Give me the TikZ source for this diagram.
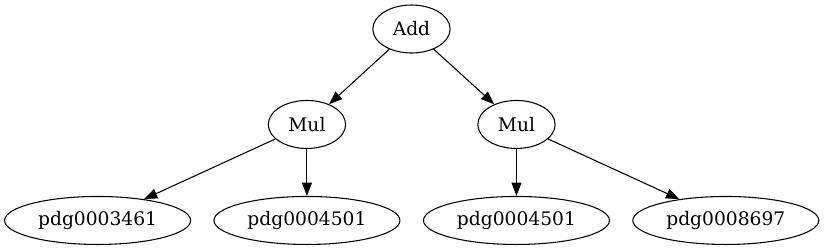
\documentclass[tikz,border=0pt]{standalone}
\usepackage{fontspec}
\setmainfont{DejaVu Serif}
\usepackage{tikz}
\usetikzlibrary{positioning,arrows.meta,shapes.geometric}

\begin{document}
\begin{tikzpicture}[
    on grid,
    op/.style={draw, ellipse, inner sep=0pt, minimum width=58pt, minimum height=36pt, line width=0.8pt, font=\fontsize{14pt}{16pt}\selectfont},
    leaf/.style={op, minimum width=139.5pt},
    arrow/.style={-{Triangle[length=10pt, width=7.5pt]}, line width=0.8pt}
]
\useasboundingbox (0,0) rectangle (618pt,-188.25pt);

\node[op] (add) at (308.6pt,-21.75pt) {Add};
\node[op, below left=71.6pt and 78.4pt of add] (mulA) {Mul};
\node[op, below right=71.6pt and 78.75pt of add] (mulB) {Mul};

\node[leaf, below left=72pt and 157pt of mulA] (pdgA) {pdg0003461};
\node[leaf, below=72pt of mulA] (pdgB) {pdg0004501};
\node[leaf, below=72pt of mulB] (pdgC) {pdg0004501};
\node[leaf, below right=72pt and 157pt of mulB] (pdgD) {pdg0008697};

\draw[arrow] (add) -- (mulA);
\draw[arrow] (add) -- (mulB);
\draw[arrow] (mulA) -- (pdgA);
\draw[arrow] (mulA) -- (pdgB);
\draw[arrow] (mulB) -- (pdgC);
\draw[arrow] (mulB) -- (pdgD);

\end{tikzpicture}
\end{document}
